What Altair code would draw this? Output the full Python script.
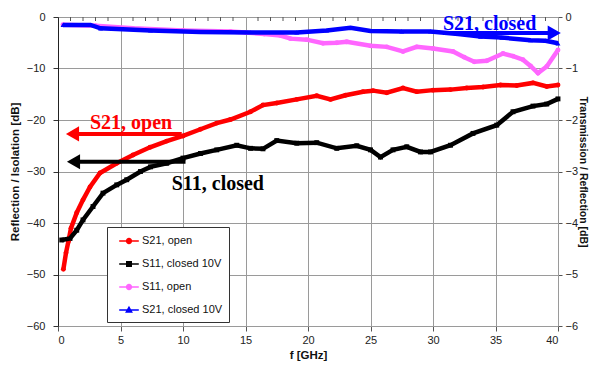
import altair as alt
import pandas as pd

# ---- series definitions -------------------------------------------------
SERIES = ["S21, open", "S11, closed 10V", "S11, open", "S21, closed 10V"]
COLORS = ["#ff0000", "#000000", "#ff66ff", "#0000ff"]
MARKERS = ["circle", "square", "circle", "triangle-up"]

# left axis (Reflection / Isolation, dB)
s21_open_f = [0.43, 0.64, 0.83, 1.04, 1.5, 2.0, 2.56, 3.36, 4.7, 6.0, 7.36, 8.7, 10.0,
              11.4, 12.7, 13.8, 15.4, 16.4, 17.5, 19.1, 20.7, 21.8, 23.0, 24.4, 25.2,
              26.3, 27.6, 28.7, 30.0, 31.4, 32.7, 34.0, 35.4, 36.7, 38.0, 39.1, 40.0]
s21_open_db = [-49.0, -45.8, -43.6, -41.0, -38.0, -35.5, -33.0, -30.3, -28.4, -26.8, -25.3,
               -24.1, -23.1, -21.8, -20.6, -19.9, -18.4, -17.1, -16.7, -16.0, -15.3, -16.0,
               -15.2, -14.5, -14.3, -14.7, -13.8, -14.5, -14.2, -14.1, -13.8, -13.6, -13.2,
               -13.3, -12.8, -13.5, -13.2]

s11_closed_f = [0.3, 0.96, 1.5, 2.0, 2.8, 3.6, 4.7, 5.5, 6.6, 7.4, 8.7, 10.0, 11.4, 12.7,
                14.3, 15.4, 16.4, 17.5, 19.1, 20.7, 22.3, 23.9, 25.0, 25.8, 26.8, 27.9,
                29.0, 29.8, 31.4, 33.2, 35.1, 36.4, 38.0, 39.1, 40.0]
s11_closed_db = [-43.3, -43.0, -41.4, -39.4, -36.8, -34.2, -32.6, -31.6, -30.0, -29.1, -28.4,
                 -27.4, -26.5, -25.8, -24.9, -25.5, -25.6, -24.0, -24.5, -24.4, -25.5, -25.0,
                 -25.8, -27.2, -25.8, -25.2, -26.2, -26.2, -24.9, -22.6, -21.0, -18.4, -17.3,
                 -16.9, -15.9]

# right axis (Transmission / Reflection, dB)
s11_open_f = [0.4, 3.0, 6.0, 10.0, 13.8, 15.0, 16.5, 17.8, 18.6, 19.9, 21.2, 22.3, 23.1,
              25.0, 26.3, 27.6, 28.7, 30.0, 31.6, 32.5, 33.3, 34.3, 35.6, 36.4, 37.2, 37.8,
              38.4, 39.1, 40.0]
s11_open_db = [-0.15, -0.17, -0.22, -0.26, -0.28, -0.3, -0.33, -0.36, -0.42, -0.44, -0.51,
               -0.5, -0.48, -0.56, -0.58, -0.67, -0.58, -0.61, -0.67, -0.78, -0.87, -0.85,
               -0.71, -0.76, -0.83, -0.95, -1.09, -0.96, -0.64]

s21_closed_f = [0.4, 2.6, 3.4, 7.4, 11.4, 15.4, 19.1, 21.5, 23.4, 25.0, 27.5, 29.8, 32.0,
                33.8, 35.5, 37.8, 39.0, 40.0]
s21_closed_db = [-0.155, -0.155, -0.22, -0.26, -0.29, -0.3, -0.3, -0.26, -0.21, -0.27,
                 -0.28, -0.28, -0.33, -0.38, -0.4, -0.45, -0.46, -0.51]

# annotations (left-axis units)
ann_text = ["S21, open", "S11, closed", "S21, closed"]
ann_x = [2.56, 9.1, 30.8]
ann_y = [-20.6, -32.4, -1.4]
ann_color = ["#ff0000", "#000000", "#0000ff"]
arrow_tail = [9.9, 10.2, 30.8]
arrow_tip = [0.56, 0.64, 40.3]
arrow_y = [-22.7, -28.1, -3.1]

minor_ticks = [v for v in range(1, 40) if v % 5 != 0]

FONT = "Liberation Sans"

# ---- data tables ----------------------------------------------------------
def table(i, fs, vs):
    return pd.DataFrame({"f": fs, "val": vs, "series": SERIES[i], "marker": MARKERS[i]})

left_df = pd.concat([table(0, s21_open_f, s21_open_db),
                     table(1, s11_closed_f, s11_closed_db)])
right_df = pd.concat([table(2, s11_open_f, s11_open_db),
                      table(3, s21_closed_f, s21_closed_db)])

ann_df = pd.DataFrame({"text": ann_text, "x": ann_x, "y": ann_y, "c": ann_color})
head_offset = [0.6 if t < s else -0.6 for t, s in zip(arrow_tip, arrow_tail)]
arrow_df = pd.DataFrame({
    "tail": arrow_tail,
    "head": [t + o for t, o in zip(arrow_tip, head_offset)],
    "y": arrow_y,
    "c": ann_color,
    "shape": ["triangle-left" if o > 0 else "triangle-right" for o in head_offset],
})
minor_df = pd.DataFrame({"f": minor_ticks})

# ---- encodings ------------------------------------------------------------
x_enc = alt.X("f:Q", scale=alt.Scale(domain=[0, 40], nice=False),
              axis=alt.Axis(values=list(range(0, 41, 5)), title="f [GHz]",
                            grid=True, gridColor="#9a9a9a", domainColor="#9a9a9a",
                            tickColor="#555", tickSize=5, labelPadding=3,
                            titlePadding=4))

# legend glyph: short line segment with the series marker in the middle
circle_path = "M-1.4,0H1.4M-0.34,0A0.34,0.34 0 1 1 0.34,0A0.34,0.34 0 1 1 -0.34,0Z"
square_path = "M-1.4,0H1.4M-0.32,-0.32H0.32V0.32H-0.32Z"
triangle_path = "M-1.4,0H1.4M0,-0.38L0.38,0.3H-0.38Z"
symbol_expr = (
    f"datum.value === 'S11, closed 10V' ? '{square_path}' : "
    f"datum.value === 'S21, closed 10V' ? '{triangle_path}' : '{circle_path}'"
)

color_enc = alt.Color(
    "series:N",
    scale=alt.Scale(domain=SERIES, range=COLORS),
    legend=alt.Legend(
        orient="none", legendX=49, legendY=210, title=None,
        fillColor="white", strokeColor="#333333", padding=6, rowPadding=9,
        symbolSize=196, symbolOffset=8, labelOffset=5, symbolStrokeWidth=1.5,
        symbolType=alt.ExprRef(expr=symbol_expr),
        symbolStrokeColor=alt.ExprRef(expr="scale('color', datum.value)"),
        symbolFillColor=alt.ExprRef(expr="scale('color', datum.value)"),
        symbolOpacity=1,
        labelFont=FONT, labelFontSize=11, labelColor="#111111",
    ),
    sort=SERIES,
)
shape_enc = alt.Shape("marker:N", scale=None, legend=None)

y_left = alt.Y("val:Q", scale=alt.Scale(domain=[-60, 0], nice=False),
               axis=alt.Axis(orient="left", values=list(range(-60, 1, 10)),
                             title="Reflection / Isolation [dB]", grid=True,
                             gridColor="#9a9a9a", domainColor="#222", tickColor="#333",
                             tickSize=5, labelPadding=8, titlePadding=6))
y_right = alt.Y("val:Q", scale=alt.Scale(domain=[-6, 0], nice=False),
                axis=alt.Axis(orient="right", values=list(range(-6, 1)),
                              title="Transmission / Reflection [dB]", grid=False,
                              titleAngle=90, titleFontSize=10.5, domainColor="#9a9a9a",
                              tickColor="#555", tickSize=4, labelPadding=3,
                              titlePadding=0))

# ---- left-axis layers -----------------------------------------------------
left_points = alt.Chart(left_df).mark_point(filled=True, size=24, opacity=1).encode(
    x=x_enc, y=y_left, color=color_enc, shape=shape_enc)
left_lines = alt.Chart(left_df).mark_line(strokeWidth=4.5).encode(
    x="f:Q", y="val:Q", color=color_enc, detail="series:N")

arrow_shafts = alt.Chart(arrow_df).mark_rule(strokeWidth=4).encode(
    x="tail:Q", x2="head:Q", y="y:Q", color=alt.Color("c:N", scale=None))
arrow_heads = alt.Chart(arrow_df).mark_point(filled=True, size=230, opacity=1).encode(
    x="head:Q", y="y:Q", color=alt.Color("c:N", scale=None),
    shape=alt.Shape("shape:N", scale=None))
labels = alt.Chart(ann_df).mark_text(
    font="Liberation Serif", fontWeight="bold", fontSize=20, align="left",
    baseline="middle").encode(
    x="x:Q", y="y:Q", text="text:N", color=alt.Color("c:N", scale=None))

top_ticks = alt.Chart(minor_df).mark_rule(color="#555", strokeWidth=1).encode(
    x="f:Q", y=alt.value(0), y2=alt.value(4))

left_layer = alt.layer(left_points, left_lines, top_ticks, arrow_shafts, arrow_heads, labels)

# ---- right-axis layers ----------------------------------------------------
right_points = alt.Chart(right_df).mark_point(filled=True, size=24, opacity=1).encode(
    x="f:Q", y=y_right, color=color_enc, shape=shape_enc)
right_lines = alt.Chart(right_df).mark_line(strokeWidth=4.5).encode(
    x="f:Q", y="val:Q", color=color_enc, detail="series:N")
right_layer = alt.layer(right_points, right_lines)

chart = alt.layer(left_layer, right_layer).resolve_scale(
    y="independent"
).properties(
    width=500, height=309,
    autosize=alt.AutoSizeParams(type="none"),
    padding={"left": 58, "top": 17, "right": 33, "bottom": 44},
    background="white",
).configure_view(
    stroke="#9a9a9a", strokeWidth=1
).configure_axis(
    labelFont=FONT, labelFontSize=11, labelColor="#222222",
    titleFont=FONT, titleFontSize=11.5, titleFontWeight="bold", titleColor="#111111",
)

chart.save("out.html", embed_options={"renderer": "svg", "actions": False})
